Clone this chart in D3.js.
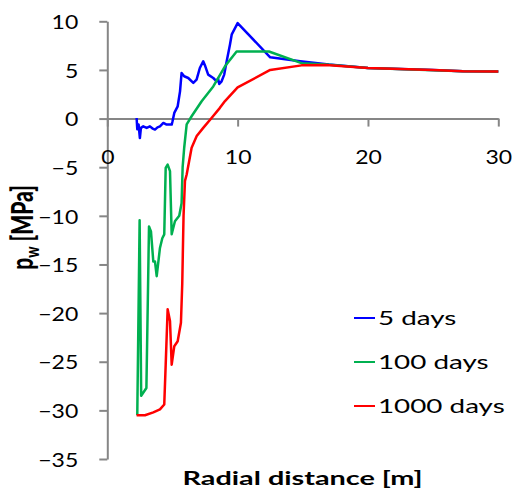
<!DOCTYPE html>
<html>
<head>
<meta charset="utf-8">
<script src="https://cdn.jsdelivr.net/npm/d3@7"></script>
<style>
  body { margin: 0; background: #fff; }
  text { font-family: Lato, "Open Sans", sans-serif; }
</style>
</head>
<body>
<script>
    // Data
    var days5 = [[2.25,0.06],[2.3,-1.1],[2.4,-0.6],[2.5,-2.0],[2.58,-0.96],[2.76,-0.8],[3.02,-0.96],[3.27,-0.8],
      [3.45,-1.0],[3.66,-1.13],[3.85,-0.9],[4.04,-0.8],[4.3,-0.45],[4.55,-0.62],[4.94,-0.62],[5.0,-0.3],
      [5.14,0.58],[5.4,1.26],[5.58,2.8],[5.7,4.69],[5.9,4.35],[6.21,4.17],[6.6,3.66],[6.85,4.0],[7.1,5.2],
      [7.36,5.89],[7.52,5.37],[7.74,4.52],[8.13,4.17],[8.39,3.83],[8.5,4.1],[8.59,3.56],[8.77,3.83],
      [8.97,4.52],[9.16,5.89],[9.41,7.6],[9.55,8.66],[10.0,9.82],[12.5,6.3],[14.8,5.9],[17,5.55],
      [20,5.2],[25,5.0],[27.3,4.86],[30,4.83]];

    var days100 = [[2.3,-30.5],[2.48,-10.45],[2.6,-28.5],[3.0,-27.7],[3.2,-11.1],[3.35,-11.6],[3.53,-14.7],
      [3.66,-14.7],[3.79,-16.2],[4.04,-13.3],[4.22,-12.3],[4.37,-11.9],[4.48,-5.07],[4.63,-4.73],[4.81,-5.4],
      [4.94,-11.9],[5.19,-10.55],[5.52,-10.0],[5.7,-8.7],[5.78,-5.0],[5.9,-3.0],[6.09,-0.6],[6.47,0.24],
      [7.24,1.78],[8.13,3.3],[9.03,5.37],[9.92,6.9],[12.4,6.9],[14.9,5.7],[16.8,5.55],[20,5.2],
      [27.3,4.86],[30,4.83]];

    var days1000 = [[2.25,-30.5],[2.89,-30.5],[3.53,-30.2],[4.04,-29.9],[4.37,-29.4],[4.48,-25.3],
      [4.63,-19.6],[4.81,-20.8],[4.94,-25.3],[5.14,-23.4],[5.4,-22.9],[5.65,-21.0],[5.75,-17.0],
      [5.85,-10.0],[5.96,-6.4],[6.09,-5.75],[6.47,-3.0],[6.86,-1.8],[7.36,-0.96],[8.0,0.06],[8.64,1.1],
      [9.03,1.8],[10.0,3.2],[12.5,5.0],[14.9,5.47],[16.8,5.5],[20,5.2],[25,5.0],[27.3,4.86],[30,4.83]];

    var seriesNames = ["5 days", "100 days", "1000 days"];
    var seriesColors = ["#0000ff", "#00b050", "#ff0000"];
    var xTicks = [0, 10, 20, 30];
    var yTicks = [10, 5, 0, -5, -10, -15, -20, -25, -30, -35];

    var w = 519, h = 498;

    var svg = d3.select("body").append("svg")
        .attr("width", w)
        .attr("height", h);

    var x = d3.scaleLinear().domain([0, 30]).range([107.3, 498.3]);
    var y = d3.scaleLinear().domain([-35, 10]).range([459, 21.3]);

    var axisColor = "#868686";
    var tickStretch = 1.15;   // the reference text is stretched sideways

    // y axis
    var yAxis = svg.append("g")
        .attr("transform", `translate(${x(0)},0)`)
        .call(d3.axisLeft(y).tickValues(yTicks).tickSize(8).tickSizeOuter(0));
    yAxis.select(".domain").attr("stroke", axisColor).attr("stroke-width", 2);
    yAxis.selectAll(".tick line").attr("stroke", axisColor).attr("stroke-width", 2);
    yAxis.selectAll(".tick text")
        .attr("x", 0)
        .attr("dy", "0.36em")
        .attr("transform", `translate(-29,0) scale(${tickStretch},1)`)
        .attr("font-size", 20)
        .attr("font-family", "Lato, sans-serif")
        .attr("fill", "#000");

    // x axis at y = 0
    var xAxis = svg.append("g")
        .attr("transform", `translate(0,${y(0)})`)
        .call(d3.axisBottom(x).tickValues(xTicks).tickSize(8).tickSizeOuter(0));
    xAxis.select(".domain").attr("stroke", axisColor).attr("stroke-width", 2);
    xAxis.selectAll(".tick line").attr("stroke", axisColor).attr("stroke-width", 2);
    xAxis.selectAll(".tick text")
        .attr("y", 0)
        .attr("dy", "0.36em")
        .attr("transform", `translate(0,38.5) scale(${tickStretch},1)`)
        .attr("font-size", 20)
        .attr("font-family", "Lato, sans-serif")
        .attr("fill", "#000");

    // lines
    var line = d3.line()
        .x(d => x(d[0]))
        .y(d => y(d[1]));

    var allSeries = [days5, days100, days1000];

    svg.append("g").selectAll("path")
        .data(allSeries)
        .enter().append("path")
        .attr("d", line)
        .attr("fill", "none")
        .attr("stroke", (d, i) => seriesColors[i])
        .attr("stroke-width", 2.5)
        .attr("stroke-linejoin", "round");

    // legend
    var legend = svg.append("g").selectAll("g")
        .data(seriesNames)
        .enter().append("g")
        .attr("transform", (d, i) => `translate(354,${318 + i * 44})`);

    legend.append("line")
        .attr("x1", 0).attr("x2", 21)
        .attr("stroke", (d, i) => seriesColors[i])
        .attr("stroke-width", 2);

    legend.append("text")
        .attr("transform", "translate(24,0) scale(1.39,1)")
        .attr("dy", "0.36em")
        .attr("font-size", 20)
        .text(d => d);

    // axis titles
    svg.append("text")
        .attr("transform", "translate(302.5,485) scale(1.55,1)")
        .attr("text-anchor", "middle")
        .attr("font-size", 18.6)
        .attr("font-weight", "bold")
        .text("Radial distance [m]");

    var yTitle = svg.append("text")
        .attr("transform", "translate(33,227.5) scale(1.4,1) rotate(-90)")
        .attr("text-anchor", "middle")
        .attr("font-size", 21)
        .attr("font-weight", 900);
    yTitle.append("tspan").text("p");
    yTitle.append("tspan").attr("font-size", 14).attr("dy", 4).text("w");
    yTitle.append("tspan").attr("dy", -4).text(" [MPa]");
</script>
</body>
</html>
